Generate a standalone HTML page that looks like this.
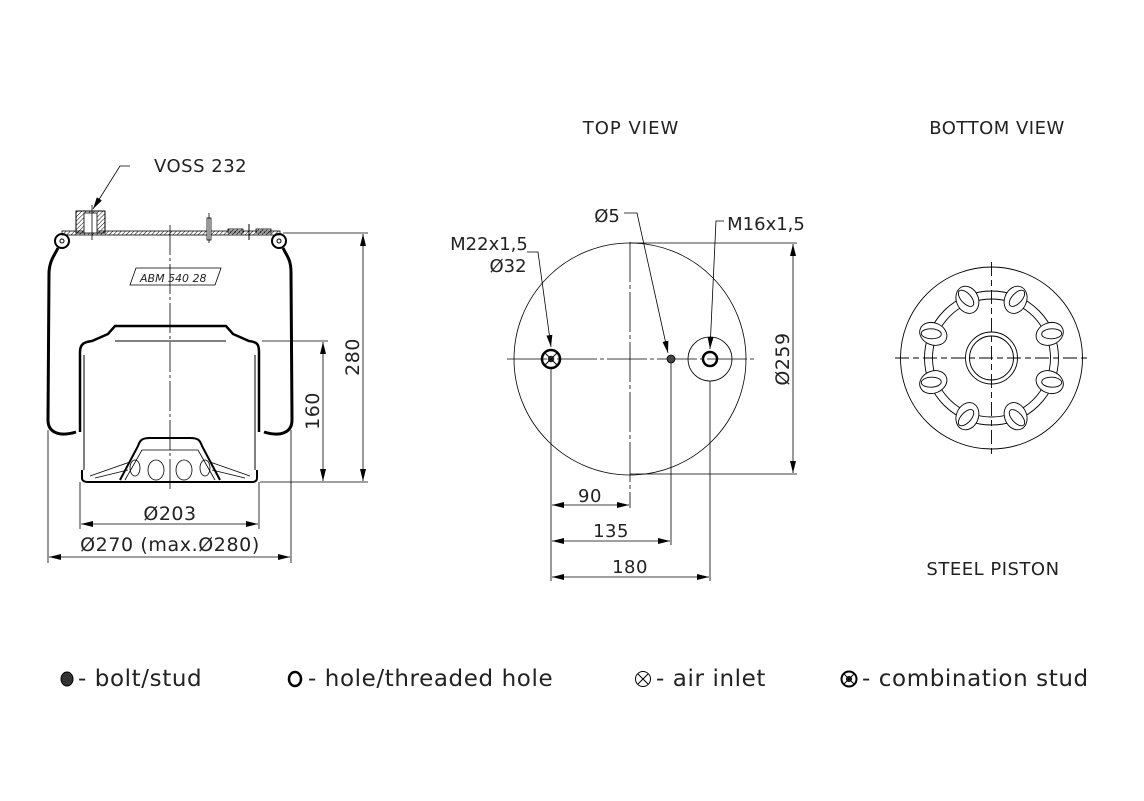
<!DOCTYPE html>
<html><head><meta charset="utf-8"><style>
html,body{margin:0;padding:0;background:#fff;}
svg{display:block;}
text{font-family:"DejaVu Sans","Liberation Sans",sans-serif;fill:#222;}
</style></head><body>
<svg width="1144" height="801" viewBox="0 0 1144 801" xmlns="http://www.w3.org/2000/svg">
<defs>
<marker id="ar" viewBox="0 0 12 6" refX="12" refY="3" markerWidth="12" markerHeight="6" markerUnits="userSpaceOnUse" orient="auto-start-reverse"><path d="M0,0 L12,3 L0,6 z" fill="#000"/></marker>
<pattern id="h" width="3" height="3" patternUnits="userSpaceOnUse" patternTransform="rotate(45)"><line x1="0" y1="0" x2="0" y2="3" stroke="#000" stroke-width="1"/></pattern>
</defs>

<!-- ============ LEFT SIDE VIEW ============ -->
<g stroke="#000" fill="none">
  <rect x="62" y="231" width="218" height="4" fill="url(#h)" stroke-width="0.8"/>
  <rect x="76" y="211" width="29" height="22" fill="url(#h)" stroke-width="1"/>
  <rect x="84" y="213" width="13" height="20" fill="#fff" stroke-width="0.8"/>
  <rect x="207" y="218" width="4" height="22" fill="#fff" stroke-width="0.8"/>
  <rect x="228" y="229" width="15" height="4" fill="url(#h)" stroke-width="0.8"/>
  <rect x="256" y="229" width="15" height="4" fill="url(#h)" stroke-width="0.8"/>
  <line x1="249" y1="224" x2="249" y2="240" stroke-width="1"/>
  <circle cx="62" cy="241" r="7" stroke-width="2"/>
  <circle cx="62" cy="241" r="2" stroke-width="1"/>
  <circle cx="279" cy="241" r="7" stroke-width="2"/>
  <circle cx="279" cy="241" r="2" stroke-width="1"/>
  <path d="M58,248 C54,256 50,260 49,272 L48,420 C48,433 60,437 76,432" stroke-width="3"/>
  <path d="M283,248 C287,256 291,260 291,272 L292,420 C292,433 280,437 264,432" stroke-width="3"/>
  <path d="M80,432 L80,352 C80,344 84,342 92,341 L108,334 L115,326 L226,326 L233,334 L249,341 C257,342 259,344 259,352 L259,432" stroke-width="2.5"/>
  <path d="M84,355 L84,470 M255,355 L255,470" stroke-width="1"/>
  <line x1="115" y1="341" x2="226" y2="341" stroke-width="1"/>
  <path d="M82,470 L82,478 C82,481 85,482 88,482 L252,482 C255,482 257,481 257,478 L257,470" stroke-width="2"/>
  <path d="M120,480 L138,446 C140,440 142,438 150,438 L190,438 C198,438 200,440 202,446 L220,480" stroke-width="2"/>
  <path d="M125,480 L142,450 L198,450 L215,480" stroke-width="0.8"/>
  <path d="M90,476 L130,462 M250,476 L210,462 M95,478 L128,470 M245,478 L212,470" stroke-width="0.8"/>
  <ellipse cx="156" cy="470" rx="8" ry="10" stroke-width="0.8"/>
  <ellipse cx="184" cy="470" rx="8" ry="10" stroke-width="0.8"/>
  <ellipse cx="135" cy="468" rx="5" ry="8" stroke-width="0.8"/>
  <ellipse cx="205" cy="468" rx="5" ry="8" stroke-width="0.8"/>
  <path d="M136,268 L221,268 L215,285 L130,285 z" stroke-width="0.8"/>
  <line x1="170" y1="225" x2="170" y2="492" stroke-width="0.8" stroke-dasharray="30,3,3,3"/>
  <line x1="92" y1="205" x2="92" y2="240" stroke-width="0.8"/>
  <line x1="209" y1="213" x2="209" y2="243" stroke-width="0.8"/>
  <g stroke-width="0.8">
    <line x1="283" y1="233" x2="368" y2="233"/>
    <line x1="260" y1="482" x2="368" y2="482"/>
    <line x1="262" y1="341" x2="328" y2="341"/>
    <line x1="363" y1="234" x2="363" y2="481" marker-start="url(#ar)" marker-end="url(#ar)"/>
    <line x1="323" y1="342" x2="323" y2="481" marker-start="url(#ar)" marker-end="url(#ar)"/>
    <line x1="80" y1="482" x2="80" y2="529"/>
    <line x1="259" y1="482" x2="259" y2="529"/>
    <line x1="48" y1="430" x2="48" y2="563"/>
    <line x1="291" y1="430" x2="291" y2="563"/>
    <line x1="81" y1="524" x2="258" y2="524" marker-start="url(#ar)" marker-end="url(#ar)"/>
    <line x1="49" y1="557" x2="290" y2="557" marker-start="url(#ar)" marker-end="url(#ar)"/>
    <polyline points="130,166 120,166 93,209" marker-end="url(#ar)"/>
  </g>
</g>
<text x="154" y="172" font-size="18" letter-spacing="0.5">VOSS 232</text>
<text x="140" y="282" font-size="11" font-style="italic">ABM  540 28</text>
<text x="170" y="520" font-size="19" letter-spacing="0.5" text-anchor="middle">Ø203</text>
<text x="170" y="551" font-size="19" letter-spacing="0.6" text-anchor="middle">Ø270 (max.Ø280)</text>
<text transform="translate(359,357) rotate(-90)" font-size="19" letter-spacing="0.5" text-anchor="middle">280</text>
<text transform="translate(319,411) rotate(-90)" font-size="19" letter-spacing="0.5" text-anchor="middle">160</text>

<!-- ============ TOP VIEW ============ -->
<text x="631" y="134" font-size="18" letter-spacing="1" text-anchor="middle">TOP VIEW</text>
<g stroke="#000" fill="none">
  <circle cx="630" cy="359" r="116" stroke-width="0.8"/>
  <line x1="507" y1="359" x2="755" y2="359" stroke-width="0.8" stroke-dasharray="40,3,4,3"/>
  <line x1="630" y1="242" x2="630" y2="508" stroke-width="0.8" stroke-dasharray="40,3,4,3"/>
  <circle cx="551" cy="359" r="9" stroke-width="2.5"/>
  <circle cx="551" cy="359" r="3" fill="#333" stroke-width="0.5"/>
  <path d="M545,353 L557,365 M557,353 L545,365" stroke-width="1"/>
  <circle cx="671" cy="359" r="4" fill="#444" stroke-width="0.8"/>
  <circle cx="710" cy="359" r="22" stroke-width="0.8"/>
  <circle cx="710" cy="359" r="7" stroke-width="2.5"/>
  <g stroke-width="0.8">
    <line x1="630" y1="243" x2="797" y2="243"/>
    <line x1="630" y1="474" x2="797" y2="474"/>
    <line x1="793" y1="244" x2="793" y2="473" marker-start="url(#ar)" marker-end="url(#ar)"/>
    <line x1="551" y1="369" x2="551" y2="581"/>
    <line x1="671" y1="363" x2="671" y2="545"/>
    <line x1="710" y1="381" x2="710" y2="581"/>
    <line x1="552" y1="505" x2="629" y2="505" marker-start="url(#ar)" marker-end="url(#ar)"/>
    <line x1="552" y1="541" x2="670" y2="541" marker-start="url(#ar)" marker-end="url(#ar)"/>
    <line x1="552" y1="577" x2="709" y2="577" marker-start="url(#ar)" marker-end="url(#ar)"/>
    <polyline points="527,252 538,252 551,347" marker-end="url(#ar)"/>
    <polyline points="624,213 637,213 668,353" marker-end="url(#ar)"/>
    <polyline points="724,221 716,221 710,349" marker-end="url(#ar)"/>
  </g>
</g>
<text x="489" y="250" font-size="18" text-anchor="middle">M22x1,5</text>
<text x="508" y="272" font-size="18" text-anchor="middle">Ø32</text>
<text x="607" y="222" font-size="18" text-anchor="middle">Ø5</text>
<text x="766" y="230" font-size="18" text-anchor="middle">M16x1,5</text>
<text transform="translate(789,359) rotate(-90)" font-size="19" letter-spacing="0.5" text-anchor="middle">Ø259</text>
<text x="590" y="502" font-size="18" letter-spacing="0.5" text-anchor="middle">90</text>
<text x="611" y="537" font-size="18" letter-spacing="0.5" text-anchor="middle">135</text>
<text x="630" y="573" font-size="18" letter-spacing="0.5" text-anchor="middle">180</text>

<!-- ============ BOTTOM VIEW ============ -->
<text x="997" y="134" font-size="18" letter-spacing="0.5" text-anchor="middle">BOTTOM VIEW</text>
<text x="993" y="575" font-size="18" letter-spacing="0.5" text-anchor="middle">STEEL PISTON</text>
<g stroke="#000" fill="none" stroke-width="0.9">
  <circle cx="991.5" cy="358" r="91"/>
  <circle cx="991.5" cy="358" r="67"/>
  <circle cx="991.5" cy="358" r="59"/>
  <circle cx="991.5" cy="358" r="26"/>
  <circle cx="991.5" cy="358" r="22"/>
  <line x1="895" y1="358" x2="1088" y2="358" stroke-dasharray="14,4,6,4"/>
  <line x1="991.5" y1="262" x2="991.5" y2="455" stroke-dasharray="14,4,6,4"/>
  <g transform="translate(991.5,358)" fill="#fff">
    <g transform="rotate(-67.5) translate(63,0)"><ellipse rx="14" ry="11"/><ellipse cx="2" rx="10" ry="5" transform="rotate(20)"/></g>
    <g transform="rotate(-22.5) translate(63,0)"><ellipse rx="14" ry="11"/><ellipse cx="2" rx="10" ry="5" transform="rotate(20)"/></g>
    <g transform="rotate(22.5) translate(63,0)"><ellipse rx="14" ry="11"/><ellipse cx="2" rx="10" ry="5" transform="rotate(-20)"/></g>
    <g transform="rotate(67.5) translate(63,0)"><ellipse rx="14" ry="11"/><ellipse cx="2" rx="10" ry="5" transform="rotate(-20)"/></g>
    <g transform="rotate(112.5) translate(63,0)"><ellipse rx="14" ry="11"/><ellipse cx="2" rx="10" ry="5" transform="rotate(20)"/></g>
    <g transform="rotate(157.5) translate(63,0)"><ellipse rx="14" ry="11"/><ellipse cx="2" rx="10" ry="5" transform="rotate(20)"/></g>
    <g transform="rotate(202.5) translate(63,0)"><ellipse rx="14" ry="11"/><ellipse cx="2" rx="10" ry="5" transform="rotate(-20)"/></g>
    <g transform="rotate(247.5) translate(63,0)"><ellipse rx="14" ry="11"/><ellipse cx="2" rx="10" ry="5" transform="rotate(-20)"/></g>
  </g>
</g>

<!-- ============ LEGEND ============ -->
<g stroke="#000">
  <ellipse cx="67" cy="679" rx="6" ry="7" fill="#333" stroke-width="1"/>
  <ellipse cx="295" cy="679" rx="6" ry="7" fill="none" stroke-width="2.5"/>
  <circle cx="643" cy="679" r="7.5" fill="none" stroke-width="1"/>
  <path d="M638,674 L648,684 M648,674 L638,684" stroke-width="1"/>
  <circle cx="849" cy="679" r="7.5" fill="none" stroke-width="2"/>
  <circle cx="849" cy="679" r="2.5" fill="#333"/>
  <path d="M844,674 L854,684 M854,674 L844,684" stroke-width="1"/>
</g>
<text x="78" y="686" font-size="23" letter-spacing="0.6">- bolt/stud</text>
<text x="308" y="686" font-size="23" letter-spacing="0.6">- hole/threaded hole</text>
<text x="656" y="686" font-size="23" letter-spacing="0.6">- air inlet</text>
<text x="862" y="686" font-size="23" letter-spacing="0.6">- combination stud</text>
</svg>
</body></html>
